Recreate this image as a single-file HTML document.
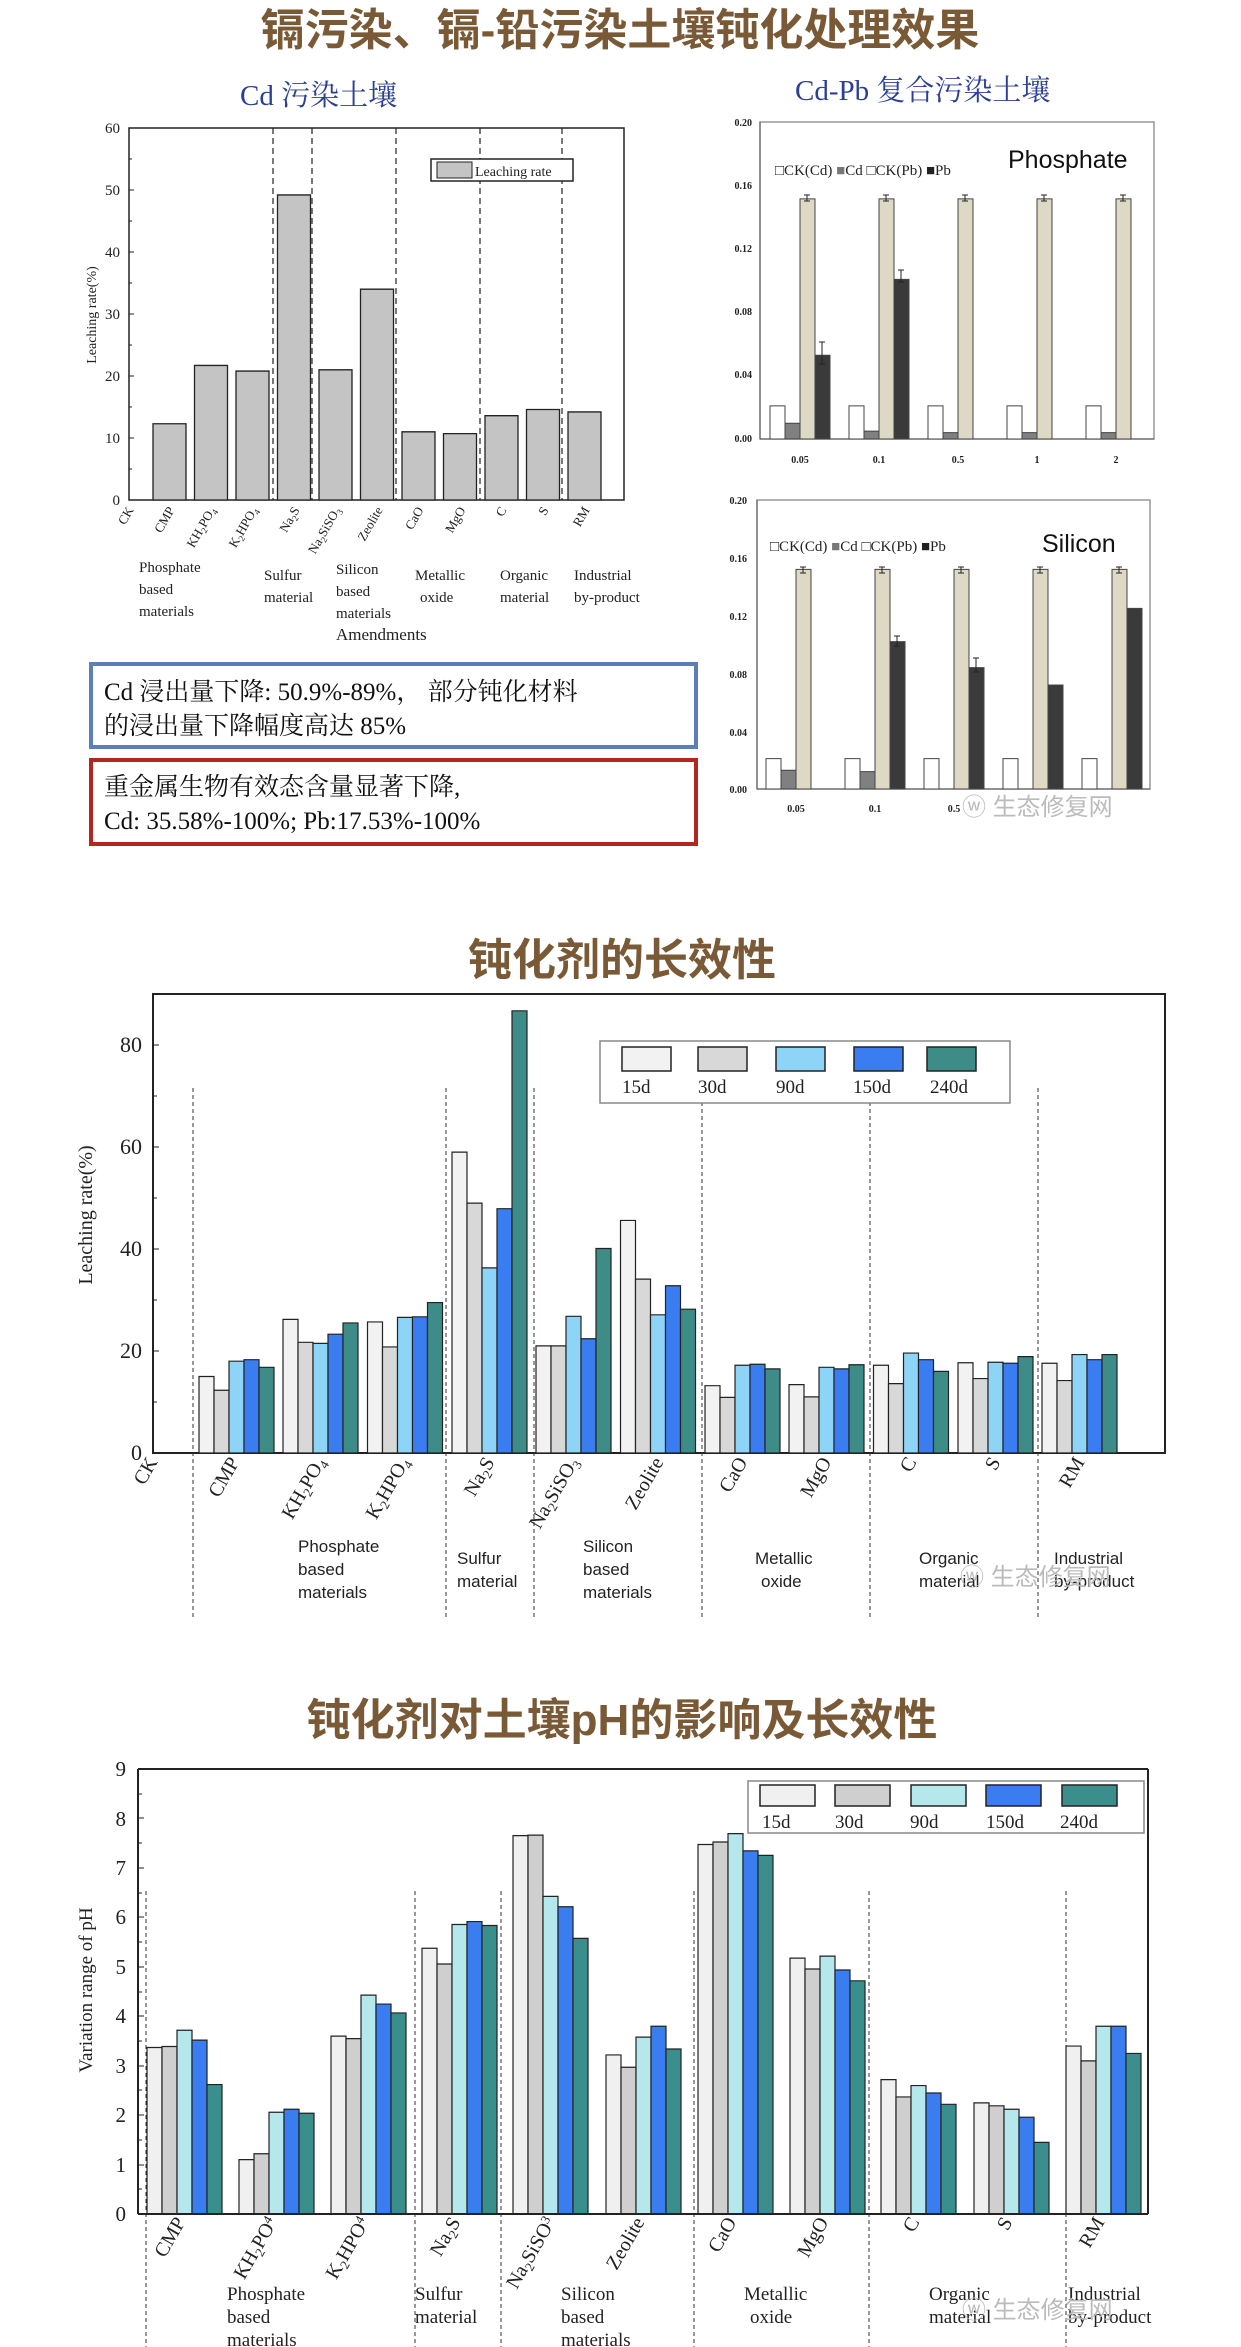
<!DOCTYPE html>
<html><head><meta charset="utf-8"><style>
html,body{margin:0;padding:0;background:#fff;}
svg{display:block;}
.t{font-family:"Liberation Sans","Noto Sans CJK SC",sans-serif;font-weight:bold;fill:#7a5a36;}
.s{font-family:"Liberation Serif","Noto Serif CJK SC",serif;}
.a{font-family:"Liberation Sans",sans-serif;}
</style></head><body>
<svg width="1241" height="2347" viewBox="0 0 1241 2347" xmlns="http://www.w3.org/2000/svg">
<rect width="1241" height="2347" fill="#fff"/>
<!-- Title 1 -->
<text class="t" x="620" y="45" font-size="44" text-anchor="middle">镉污染、镉-铅污染土壤钝化处理效果</text>
<text class="s" x="240" y="105" font-size="29" fill="#2b3f95">Cd 污染土壤</text>
<text class="s" x="795" y="100" font-size="29" fill="#2b3f95">Cd-Pb 复合污染土壤</text>

<!-- Chart 1 left -->
<g class="s" font-size="15" fill="#222">
<rect x="129" y="128" width="495" height="372" fill="none" stroke="#222" stroke-width="1.5"/>
<g stroke="#222" stroke-dasharray="6,4" stroke-width="1.2">
<line x1="273" y1="128" x2="273" y2="500"/><line x1="312" y1="128" x2="312" y2="500"/>
<line x1="396" y1="128" x2="396" y2="500"/><line x1="480" y1="128" x2="480" y2="500"/>
<line x1="562" y1="128" x2="562" y2="500"/></g>
<g transform="translate(0,500) scale(1,-6.2)" fill="#c4c4c4" stroke="#222" stroke-width="1.3">
<rect vector-effect="non-scaling-stroke" x="153" y="0" width="33" height="12.3"/>
<rect vector-effect="non-scaling-stroke" x="194.5" y="0" width="33" height="21.7"/>
<rect vector-effect="non-scaling-stroke" x="236" y="0" width="33" height="20.8"/>
<rect vector-effect="non-scaling-stroke" x="277.5" y="0" width="33" height="49.2"/>
<rect vector-effect="non-scaling-stroke" x="319" y="0" width="33" height="21"/>
<rect vector-effect="non-scaling-stroke" x="360.5" y="0" width="33" height="34"/>
<rect vector-effect="non-scaling-stroke" x="402" y="0" width="33" height="11"/>
<rect vector-effect="non-scaling-stroke" x="443.5" y="0" width="33" height="10.7"/>
<rect vector-effect="non-scaling-stroke" x="485" y="0" width="33" height="13.6"/>
<rect vector-effect="non-scaling-stroke" x="526.5" y="0" width="33" height="14.6"/>
<rect vector-effect="non-scaling-stroke" x="568" y="0" width="33" height="14.2"/>
</g>
<g stroke="#222"><line x1="129" y1="438" x2="134" y2="438"/><line x1="129" y1="376" x2="134" y2="376"/><line x1="129" y1="314" x2="134" y2="314"/><line x1="129" y1="252" x2="134" y2="252"/><line x1="129" y1="190" x2="134" y2="190"/>
<line x1="129" y1="469" x2="132" y2="469"/><line x1="129" y1="407" x2="132" y2="407"/><line x1="129" y1="345" x2="132" y2="345"/><line x1="129" y1="283" x2="132" y2="283"/><line x1="129" y1="221" x2="132" y2="221"/><line x1="129" y1="159" x2="132" y2="159"/></g>
<g text-anchor="end"><text x="120" y="505">0</text><text x="120" y="443">10</text><text x="120" y="381">20</text><text x="120" y="319">30</text><text x="120" y="257">40</text><text x="120" y="195">50</text><text x="120" y="133">60</text></g>
<text transform="translate(96,315) rotate(-90)" text-anchor="middle" font-size="14">Leaching rate(%)</text>
<rect x="431" y="159" width="142" height="22" fill="#fff" stroke="#222" stroke-width="1.5"/>
<rect x="437" y="162" width="35" height="16" fill="#c4c4c4" stroke="#222"/>
<text x="475" y="176" font-size="14">Leaching rate</text>
<g font-size="13" text-anchor="end">
<text transform="translate(134,510) rotate(-60)">CK</text>
<text transform="translate(175,510) rotate(-60)">CMP</text>
<text transform="translate(216,510) rotate(-60)">KH<tspan font-size="9" dy="3">2</tspan><tspan dy="-3">PO</tspan><tspan font-size="9" dy="3">4</tspan></text>
<text transform="translate(258,510) rotate(-60)">K<tspan font-size="9" dy="3">2</tspan><tspan dy="-3">HPO</tspan><tspan font-size="9" dy="3">4</tspan></text>
<text transform="translate(300,510) rotate(-60)">Na<tspan font-size="9" dy="3">2</tspan><tspan dy="-3">S</tspan></text>
<text transform="translate(341,510) rotate(-60)">Na<tspan font-size="9" dy="3">2</tspan><tspan dy="-3">SiSO</tspan><tspan font-size="9" dy="3">3</tspan></text>
<text transform="translate(383,510) rotate(-60)">Zeolite</text>
<text transform="translate(424,510) rotate(-60)">CaO</text>
<text transform="translate(466,510) rotate(-60)">MgO</text>
<text transform="translate(507,510) rotate(-60)">C</text>
<text transform="translate(549,510) rotate(-60)">S</text>
<text transform="translate(590,510) rotate(-60)">RM</text>
</g>
<g font-size="15">
<text x="139" y="572">Phosphate</text><text x="139" y="594">based</text><text x="139" y="616">materials</text>
<text x="264" y="580">Sulfur</text><text x="264" y="602">material</text>
<text x="336" y="574">Silicon</text><text x="336" y="596">based</text><text x="336" y="618">materials</text>
<text x="415" y="580">Metallic</text><text x="420" y="602">oxide</text>
<text x="500" y="580">Organic</text><text x="500" y="602">material</text>
<text x="574" y="580">Industrial</text><text x="574" y="602">by-product</text>
<text x="336" y="640" font-size="17">Amendments</text>
</g>
</g>

<!-- Boxes -->
<rect x="91" y="664" width="605" height="83" fill="#fff" stroke="#5b80b9" stroke-width="4"/>
<text class="s" x="104" y="700" font-size="25" fill="#111">Cd 浸出量下降: 50.9%-89%， 部分钝化材料</text>
<text class="s" x="104" y="734" font-size="25" fill="#111">的浸出量下降幅度高达 85%</text>
<rect x="91" y="760" width="605" height="84" fill="#fff" stroke="#b0281e" stroke-width="4"/>
<text class="s" x="104" y="795" font-size="25" fill="#111">重金属生物有效态含量显著下降,</text>
<text class="s" x="104" y="829" font-size="25" fill="#111">Cd: 35.58%-100%; Pb:17.53%-100%</text>

<!-- Right top chart -->
<g class="s" font-size="10" fill="#222">
<rect x="760" y="122" width="394" height="317" fill="none" stroke="#999" stroke-width="1.5"/>
<line x1="760" y1="122" x2="760" y2="439" stroke="#555"/><line x1="760" y1="439" x2="1154" y2="439" stroke="#555"/>
<g text-anchor="end" font-weight="bold"><text x="752" y="126">0.20</text><text x="752" y="189">0.16</text><text x="752" y="252">0.12</text><text x="752" y="315">0.08</text><text x="752" y="378">0.04</text><text x="752" y="442">0.00</text></g>
<g transform="translate(0,439) scale(1,-1580)" stroke="#444" stroke-width="1">
<g transform="translate(770,0)"><rect vector-effect="non-scaling-stroke" x="0" width="15" height="0.021" fill="#fff"/><rect vector-effect="non-scaling-stroke" x="15" width="15" height="0.010" fill="#808080"/><rect vector-effect="non-scaling-stroke" x="30" width="15" height="0.152" fill="#ddd9c4"/><rect vector-effect="non-scaling-stroke" x="45" width="15" height="0.053" fill="#3a3a3a"/></g>
<g transform="translate(849,0)"><rect vector-effect="non-scaling-stroke" x="0" width="15" height="0.021" fill="#fff"/><rect vector-effect="non-scaling-stroke" x="15" width="15" height="0.005" fill="#808080"/><rect vector-effect="non-scaling-stroke" x="30" width="15" height="0.152" fill="#ddd9c4"/><rect vector-effect="non-scaling-stroke" x="45" width="15" height="0.101" fill="#3a3a3a"/></g>
<g transform="translate(928,0)"><rect vector-effect="non-scaling-stroke" x="0" width="15" height="0.021" fill="#fff"/><rect vector-effect="non-scaling-stroke" x="15" width="15" height="0.004" fill="#808080"/><rect vector-effect="non-scaling-stroke" x="30" width="15" height="0.152" fill="#ddd9c4"/></g>
<g transform="translate(1007,0)"><rect vector-effect="non-scaling-stroke" x="0" width="15" height="0.021" fill="#fff"/><rect vector-effect="non-scaling-stroke" x="15" width="15" height="0.004" fill="#808080"/><rect vector-effect="non-scaling-stroke" x="30" width="15" height="0.152" fill="#ddd9c4"/></g>
<g transform="translate(1086,0)"><rect vector-effect="non-scaling-stroke" x="0" width="15" height="0.021" fill="#fff"/><rect vector-effect="non-scaling-stroke" x="15" width="15" height="0.004" fill="#808080"/><rect vector-effect="non-scaling-stroke" x="30" width="15" height="0.152" fill="#ddd9c4"/></g>
</g>
<g stroke="#222" stroke-width="1">
<path d="M804 195h6M807 195v6M804 201h6M883 195h6M886 195v6M883 201h6M962 195h6M965 195v6M962 201h6M1041 195h6M1044 195v6M1041 201h6M1120 195h6M1123 195v6M1120 201h6"/>
<path d="M819 342h6M822 342v22M819 364h6M898 270h6M901 270v12M898 282h6"/>
</g>
<text x="775" y="175" font-size="15">□CK(Cd) <tspan fill="#777">■</tspan>Cd □CK(Pb) ■Pb</text>
<text class="a" x="1008" y="168" font-size="25" fill="#111">Phosphate</text>
<g text-anchor="middle" font-weight="bold"><text x="800" y="463">0.05</text><text x="879" y="463">0.1</text><text x="958" y="463">0.5</text><text x="1037" y="463">1</text><text x="1116" y="463">2</text></g>
</g>

<!-- Right bottom chart -->
<g class="s" font-size="10" fill="#222">
<rect x="757" y="500" width="393" height="289" fill="none" stroke="#999" stroke-width="1.5"/>
<line x1="757" y1="500" x2="757" y2="789" stroke="#555"/><line x1="757" y1="789" x2="1150" y2="789" stroke="#555"/>
<g text-anchor="end" font-weight="bold"><text x="747" y="504">0.20</text><text x="747" y="562">0.16</text><text x="747" y="620">0.12</text><text x="747" y="678">0.08</text><text x="747" y="736">0.04</text><text x="747" y="793">0.00</text></g>
<g transform="translate(0,789) scale(1,-1445)" stroke="#444" stroke-width="1">
<g transform="translate(766,0)"><rect vector-effect="non-scaling-stroke" x="0" width="15" height="0.021" fill="#fff"/><rect vector-effect="non-scaling-stroke" x="15" width="15" height="0.013" fill="#808080"/><rect vector-effect="non-scaling-stroke" x="30" width="15" height="0.152" fill="#ddd9c4"/></g>
<g transform="translate(845,0)"><rect vector-effect="non-scaling-stroke" x="0" width="15" height="0.021" fill="#fff"/><rect vector-effect="non-scaling-stroke" x="15" width="15" height="0.012" fill="#808080"/><rect vector-effect="non-scaling-stroke" x="30" width="15" height="0.152" fill="#ddd9c4"/><rect vector-effect="non-scaling-stroke" x="45" width="15" height="0.102" fill="#3a3a3a"/></g>
<g transform="translate(924,0)"><rect vector-effect="non-scaling-stroke" x="0" width="15" height="0.021" fill="#fff"/><rect vector-effect="non-scaling-stroke" x="30" width="15" height="0.152" fill="#ddd9c4"/><rect vector-effect="non-scaling-stroke" x="45" width="15" height="0.084" fill="#3a3a3a"/></g>
<g transform="translate(1003,0)"><rect vector-effect="non-scaling-stroke" x="0" width="15" height="0.021" fill="#fff"/><rect vector-effect="non-scaling-stroke" x="30" width="15" height="0.152" fill="#ddd9c4"/><rect vector-effect="non-scaling-stroke" x="45" width="15" height="0.072" fill="#3a3a3a"/></g>
<g transform="translate(1082,0)"><rect vector-effect="non-scaling-stroke" x="0" width="15" height="0.021" fill="#fff"/><rect vector-effect="non-scaling-stroke" x="30" width="15" height="0.152" fill="#ddd9c4"/><rect vector-effect="non-scaling-stroke" x="45" width="15" height="0.125" fill="#3a3a3a"/></g>
</g>
<g stroke="#222"><path d="M800 567h6M803 567v6M800 573h6M879 567h6M882 567v6M879 573h6M958 567h6M961 567v6M958 573h6M1037 567h6M1040 567v6M1037 573h6M1116 567h6M1119 567v6M1116 573h6M894 636h6M897 636v10M894 646h6M973 658h6M976 658v14M973 672h6"/></g>
<text x="770" y="551" font-size="15">□CK(Cd) <tspan fill="#777">■</tspan>Cd □CK(Pb) ■Pb</text>
<text class="a" x="1042" y="552" font-size="25" fill="#111">Silicon</text>
<g text-anchor="middle" font-weight="bold"><text x="796" y="812">0.05</text><text x="875" y="812">0.1</text><text x="954" y="812">0.5</text></g>
</g>
<text x="962" y="815" font-family="Liberation Sans,Noto Sans CJK SC,sans-serif" font-size="24" fill="#bbb">ⓦ 生态修复网</text>

<!-- Chart 2 -->
<text class="t" x="622" y="975" font-size="44" text-anchor="middle">钝化剂的长效性</text>
<g class="s" fill="#222">
<rect x="153" y="994" width="1012" height="459" fill="none" stroke="#222" stroke-width="2"/>
<g stroke="#333" stroke-dasharray="4,3" stroke-width="1">
<line x1="193" y1="1088" x2="193" y2="1620"/><line x1="446" y1="1088" x2="446" y2="1620"/><line x1="534" y1="1088" x2="534" y2="1620"/><line x1="702" y1="1088" x2="702" y2="1620"/><line x1="870" y1="1088" x2="870" y2="1620"/><line x1="1038" y1="1088" x2="1038" y2="1620"/></g>
<g transform="translate(0,1453) scale(1,-5.1)" stroke="#222" stroke-width="1.2">
<g transform="translate(199,0)"><rect vector-effect="non-scaling-stroke" x="0" width="15" height="15" fill="#f2f2f2"/><rect vector-effect="non-scaling-stroke" x="15" width="15" height="12.3" fill="#d8d8d8"/><rect vector-effect="non-scaling-stroke" x="30" width="15" height="18" fill="#8dd4f6"/><rect vector-effect="non-scaling-stroke" x="45" width="15" height="18.3" fill="#3a7df0"/><rect vector-effect="non-scaling-stroke" x="60" width="15" height="16.8" fill="#3d8c88"/></g>
<g transform="translate(283,0)"><rect vector-effect="non-scaling-stroke" x="0" width="15" height="26.2" fill="#f2f2f2"/><rect vector-effect="non-scaling-stroke" x="15" width="15" height="21.7" fill="#d8d8d8"/><rect vector-effect="non-scaling-stroke" x="30" width="15" height="21.5" fill="#8dd4f6"/><rect vector-effect="non-scaling-stroke" x="45" width="15" height="23.3" fill="#3a7df0"/><rect vector-effect="non-scaling-stroke" x="60" width="15" height="25.5" fill="#3d8c88"/></g>
<g transform="translate(367.5,0)"><rect vector-effect="non-scaling-stroke" x="0" width="15" height="25.7" fill="#f2f2f2"/><rect vector-effect="non-scaling-stroke" x="15" width="15" height="20.8" fill="#d8d8d8"/><rect vector-effect="non-scaling-stroke" x="30" width="15" height="26.6" fill="#8dd4f6"/><rect vector-effect="non-scaling-stroke" x="45" width="15" height="26.7" fill="#3a7df0"/><rect vector-effect="non-scaling-stroke" x="60" width="15" height="29.5" fill="#3d8c88"/></g>
<g transform="translate(452,0)"><rect vector-effect="non-scaling-stroke" x="0" width="15" height="59" fill="#f2f2f2"/><rect vector-effect="non-scaling-stroke" x="15" width="15" height="49" fill="#d8d8d8"/><rect vector-effect="non-scaling-stroke" x="30" width="15" height="36.3" fill="#8dd4f6"/><rect vector-effect="non-scaling-stroke" x="45" width="15" height="47.9" fill="#3a7df0"/><rect vector-effect="non-scaling-stroke" x="60" width="15" height="86.7" fill="#3d8c88"/></g>
<g transform="translate(536,0)"><rect vector-effect="non-scaling-stroke" x="0" width="15" height="21" fill="#f2f2f2"/><rect vector-effect="non-scaling-stroke" x="15" width="15" height="21" fill="#d8d8d8"/><rect vector-effect="non-scaling-stroke" x="30" width="15" height="26.8" fill="#8dd4f6"/><rect vector-effect="non-scaling-stroke" x="45" width="15" height="22.4" fill="#3a7df0"/><rect vector-effect="non-scaling-stroke" x="60" width="15" height="40.1" fill="#3d8c88"/></g>
<g transform="translate(620.5,0)"><rect vector-effect="non-scaling-stroke" x="0" width="15" height="45.6" fill="#f2f2f2"/><rect vector-effect="non-scaling-stroke" x="15" width="15" height="34.1" fill="#d8d8d8"/><rect vector-effect="non-scaling-stroke" x="30" width="15" height="27.1" fill="#8dd4f6"/><rect vector-effect="non-scaling-stroke" x="45" width="15" height="32.8" fill="#3a7df0"/><rect vector-effect="non-scaling-stroke" x="60" width="15" height="28.2" fill="#3d8c88"/></g>
<g transform="translate(705,0)"><rect vector-effect="non-scaling-stroke" x="0" width="15" height="13.2" fill="#f2f2f2"/><rect vector-effect="non-scaling-stroke" x="15" width="15" height="10.9" fill="#d8d8d8"/><rect vector-effect="non-scaling-stroke" x="30" width="15" height="17.2" fill="#8dd4f6"/><rect vector-effect="non-scaling-stroke" x="45" width="15" height="17.4" fill="#3a7df0"/><rect vector-effect="non-scaling-stroke" x="60" width="15" height="16.5" fill="#3d8c88"/></g>
<g transform="translate(789,0)"><rect vector-effect="non-scaling-stroke" x="0" width="15" height="13.4" fill="#f2f2f2"/><rect vector-effect="non-scaling-stroke" x="15" width="15" height="11" fill="#d8d8d8"/><rect vector-effect="non-scaling-stroke" x="30" width="15" height="16.8" fill="#8dd4f6"/><rect vector-effect="non-scaling-stroke" x="45" width="15" height="16.5" fill="#3a7df0"/><rect vector-effect="non-scaling-stroke" x="60" width="15" height="17.3" fill="#3d8c88"/></g>
<g transform="translate(873.5,0)"><rect vector-effect="non-scaling-stroke" x="0" width="15" height="17.2" fill="#f2f2f2"/><rect vector-effect="non-scaling-stroke" x="15" width="15" height="13.6" fill="#d8d8d8"/><rect vector-effect="non-scaling-stroke" x="30" width="15" height="19.6" fill="#8dd4f6"/><rect vector-effect="non-scaling-stroke" x="45" width="15" height="18.3" fill="#3a7df0"/><rect vector-effect="non-scaling-stroke" x="60" width="15" height="16" fill="#3d8c88"/></g>
<g transform="translate(958,0)"><rect vector-effect="non-scaling-stroke" x="0" width="15" height="17.7" fill="#f2f2f2"/><rect vector-effect="non-scaling-stroke" x="15" width="15" height="14.6" fill="#d8d8d8"/><rect vector-effect="non-scaling-stroke" x="30" width="15" height="17.8" fill="#8dd4f6"/><rect vector-effect="non-scaling-stroke" x="45" width="15" height="17.6" fill="#3a7df0"/><rect vector-effect="non-scaling-stroke" x="60" width="15" height="18.9" fill="#3d8c88"/></g>
<g transform="translate(1042,0)"><rect vector-effect="non-scaling-stroke" x="0" width="15" height="17.6" fill="#f2f2f2"/><rect vector-effect="non-scaling-stroke" x="15" width="15" height="14.2" fill="#d8d8d8"/><rect vector-effect="non-scaling-stroke" x="30" width="15" height="19.3" fill="#8dd4f6"/><rect vector-effect="non-scaling-stroke" x="45" width="15" height="18.3" fill="#3a7df0"/><rect vector-effect="non-scaling-stroke" x="60" width="15" height="19.3" fill="#3d8c88"/></g>
</g>
<g stroke="#222"><path d="M153 1045h6M153 1147h6M153 1249h6M153 1351h6M153 1096h4M153 1198h4M153 1300h4M153 1402h4"/></g>
<g font-size="22" text-anchor="end"><text x="142" y="1460">0</text><text x="142" y="1358">20</text><text x="142" y="1256">40</text><text x="142" y="1154">60</text><text x="142" y="1052">80</text></g>
<text transform="translate(92,1215) rotate(-90)" text-anchor="middle" font-size="20">Leaching rate(%)</text>
<rect x="600" y="1041" width="410" height="62" fill="#fff" stroke="#888" stroke-width="1.5"/>
<g stroke="#222" stroke-width="1.5"><rect x="622" y="1047" width="49" height="24" fill="#f2f2f2"/><rect x="698" y="1047" width="49" height="24" fill="#d8d8d8"/><rect x="776" y="1047" width="49" height="24" fill="#8dd4f6"/><rect x="854" y="1047" width="49" height="24" fill="#3a7df0"/><rect x="927" y="1047" width="49" height="24" fill="#3d8c88"/></g>
<g font-size="19"><text x="622" y="1093">15d</text><text x="698" y="1093">30d</text><text x="776" y="1093">90d</text><text x="853" y="1093">150d</text><text x="930" y="1093">240d</text></g>
<g font-size="20" text-anchor="end">
<text transform="translate(158,1462) rotate(-60)">CK</text>
<text transform="translate(240,1462) rotate(-60)">CMP</text>
<text transform="translate(326,1462) rotate(-60)">KH<tspan font-size="13" dy="4">2</tspan><tspan dy="-4">PO</tspan><tspan font-size="13" dy="4">4</tspan></text>
<text transform="translate(410,1462) rotate(-60)">K<tspan font-size="13" dy="4">2</tspan><tspan dy="-4">HPO</tspan><tspan font-size="13" dy="4">4</tspan></text>
<text transform="translate(495,1462) rotate(-60)">Na<tspan font-size="13" dy="4">2</tspan><tspan dy="-4">S</tspan></text>
<text transform="translate(579,1462) rotate(-60)">Na<tspan font-size="13" dy="4">2</tspan><tspan dy="-4">SiSO</tspan><tspan font-size="13" dy="4">3</tspan></text>
<text transform="translate(664,1462) rotate(-60)">Zeolite</text>
<text transform="translate(748,1462) rotate(-60)">CaO</text>
<text transform="translate(832,1462) rotate(-60)">MgO</text>
<text transform="translate(917,1462) rotate(-60)">C</text>
<text transform="translate(1001,1462) rotate(-60)">S</text>
<text transform="translate(1085,1462) rotate(-60)">RM</text>
</g>
<g class="a" font-size="17">
<text x="298" y="1552">Phosphate</text><text x="298" y="1575">based</text><text x="298" y="1598">materials</text>
<text x="457" y="1564">Sulfur</text><text x="457" y="1587">material</text>
<text x="583" y="1552">Silicon</text><text x="583" y="1575">based</text><text x="583" y="1598">materials</text>
<text x="755" y="1564">Metallic</text><text x="761" y="1587">oxide</text>
<text x="919" y="1564">Organic</text><text x="919" y="1587">material</text>
<text x="1054" y="1564">Industrial</text><text x="1054" y="1587">by-product</text>
</g>
</g>
<text x="960" y="1585" font-family="Liberation Sans,Noto Sans CJK SC,sans-serif" font-size="24" fill="#bbb">ⓦ 生态修复网</text>

<!-- Chart 3 -->
<text class="t" x="622" y="1735" font-size="44" text-anchor="middle">钝化剂对土壤pH的影响及长效性</text>
<g class="s" fill="#222">
<line x1="138" y1="1769" x2="1148" y2="1769" stroke="#222" stroke-width="2"/>
<line x1="138" y1="1769" x2="138" y2="2214" stroke="#222" stroke-width="2"/>
<line x1="1148" y1="1769" x2="1148" y2="2214" stroke="#222" stroke-width="2"/>
<g stroke="#333" stroke-dasharray="4,3" stroke-width="1">
<line x1="146" y1="1891" x2="146" y2="2347"/><line x1="415" y1="1891" x2="415" y2="2347"/><line x1="501" y1="1891" x2="501" y2="2347"/><line x1="694" y1="1891" x2="694" y2="2347"/><line x1="869" y1="1891" x2="869" y2="2347"/><line x1="1066" y1="1891" x2="1066" y2="2347"/></g>
<g transform="translate(0,2214) scale(1,-49.4)" stroke="#222" stroke-width="1.2">
<g transform="translate(147,0)"><rect vector-effect="non-scaling-stroke" x="0" width="15" height="3.37" fill="#f0f0f0"/><rect vector-effect="non-scaling-stroke" x="15" width="15" height="3.39" fill="#cfcfcf"/><rect vector-effect="non-scaling-stroke" x="30" width="15" height="3.72" fill="#b5e8ec"/><rect vector-effect="non-scaling-stroke" x="45" width="15" height="3.52" fill="#3a7df0"/><rect vector-effect="non-scaling-stroke" x="60" width="15" height="2.62" fill="#3a8f8c"/></g>
<g transform="translate(239,0)"><rect vector-effect="non-scaling-stroke" x="0" width="15" height="1.1" fill="#f0f0f0"/><rect vector-effect="non-scaling-stroke" x="15" width="15" height="1.22" fill="#cfcfcf"/><rect vector-effect="non-scaling-stroke" x="30" width="15" height="2.06" fill="#b5e8ec"/><rect vector-effect="non-scaling-stroke" x="45" width="15" height="2.12" fill="#3a7df0"/><rect vector-effect="non-scaling-stroke" x="60" width="15" height="2.04" fill="#3a8f8c"/></g>
<g transform="translate(331,0)"><rect vector-effect="non-scaling-stroke" x="0" width="15" height="3.6" fill="#f0f0f0"/><rect vector-effect="non-scaling-stroke" x="15" width="15" height="3.55" fill="#cfcfcf"/><rect vector-effect="non-scaling-stroke" x="30" width="15" height="4.43" fill="#b5e8ec"/><rect vector-effect="non-scaling-stroke" x="45" width="15" height="4.25" fill="#3a7df0"/><rect vector-effect="non-scaling-stroke" x="60" width="15" height="4.07" fill="#3a8f8c"/></g>
<g transform="translate(422,0)"><rect vector-effect="non-scaling-stroke" x="0" width="15" height="5.38" fill="#f0f0f0"/><rect vector-effect="non-scaling-stroke" x="15" width="15" height="5.06" fill="#cfcfcf"/><rect vector-effect="non-scaling-stroke" x="30" width="15" height="5.86" fill="#b5e8ec"/><rect vector-effect="non-scaling-stroke" x="45" width="15" height="5.92" fill="#3a7df0"/><rect vector-effect="non-scaling-stroke" x="60" width="15" height="5.84" fill="#3a8f8c"/></g>
<g transform="translate(513,0)"><rect vector-effect="non-scaling-stroke" x="0" width="15" height="7.66" fill="#f0f0f0"/><rect vector-effect="non-scaling-stroke" x="15" width="15" height="7.67" fill="#cfcfcf"/><rect vector-effect="non-scaling-stroke" x="30" width="15" height="6.43" fill="#b5e8ec"/><rect vector-effect="non-scaling-stroke" x="45" width="15" height="6.22" fill="#3a7df0"/><rect vector-effect="non-scaling-stroke" x="60" width="15" height="5.58" fill="#3a8f8c"/></g>
<g transform="translate(606,0)"><rect vector-effect="non-scaling-stroke" x="0" width="15" height="3.22" fill="#f0f0f0"/><rect vector-effect="non-scaling-stroke" x="15" width="15" height="2.97" fill="#cfcfcf"/><rect vector-effect="non-scaling-stroke" x="30" width="15" height="3.58" fill="#b5e8ec"/><rect vector-effect="non-scaling-stroke" x="45" width="15" height="3.8" fill="#3a7df0"/><rect vector-effect="non-scaling-stroke" x="60" width="15" height="3.34" fill="#3a8f8c"/></g>
<g transform="translate(698,0)"><rect vector-effect="non-scaling-stroke" x="0" width="15" height="7.48" fill="#f0f0f0"/><rect vector-effect="non-scaling-stroke" x="15" width="15" height="7.53" fill="#cfcfcf"/><rect vector-effect="non-scaling-stroke" x="30" width="15" height="7.7" fill="#b5e8ec"/><rect vector-effect="non-scaling-stroke" x="45" width="15" height="7.35" fill="#3a7df0"/><rect vector-effect="non-scaling-stroke" x="60" width="15" height="7.26" fill="#3a8f8c"/></g>
<g transform="translate(790,0)"><rect vector-effect="non-scaling-stroke" x="0" width="15" height="5.18" fill="#f0f0f0"/><rect vector-effect="non-scaling-stroke" x="15" width="15" height="4.96" fill="#cfcfcf"/><rect vector-effect="non-scaling-stroke" x="30" width="15" height="5.22" fill="#b5e8ec"/><rect vector-effect="non-scaling-stroke" x="45" width="15" height="4.94" fill="#3a7df0"/><rect vector-effect="non-scaling-stroke" x="60" width="15" height="4.72" fill="#3a8f8c"/></g>
<g transform="translate(881,0)"><rect vector-effect="non-scaling-stroke" x="0" width="15" height="2.72" fill="#f0f0f0"/><rect vector-effect="non-scaling-stroke" x="15" width="15" height="2.37" fill="#cfcfcf"/><rect vector-effect="non-scaling-stroke" x="30" width="15" height="2.6" fill="#b5e8ec"/><rect vector-effect="non-scaling-stroke" x="45" width="15" height="2.45" fill="#3a7df0"/><rect vector-effect="non-scaling-stroke" x="60" width="15" height="2.22" fill="#3a8f8c"/></g>
<g transform="translate(974,0)"><rect vector-effect="non-scaling-stroke" x="0" width="15" height="2.25" fill="#f0f0f0"/><rect vector-effect="non-scaling-stroke" x="15" width="15" height="2.19" fill="#cfcfcf"/><rect vector-effect="non-scaling-stroke" x="30" width="15" height="2.12" fill="#b5e8ec"/><rect vector-effect="non-scaling-stroke" x="45" width="15" height="1.96" fill="#3a7df0"/><rect vector-effect="non-scaling-stroke" x="60" width="15" height="1.45" fill="#3a8f8c"/></g>
<g transform="translate(1066,0)"><rect vector-effect="non-scaling-stroke" x="0" width="15" height="3.4" fill="#f0f0f0"/><rect vector-effect="non-scaling-stroke" x="15" width="15" height="3.1" fill="#cfcfcf"/><rect vector-effect="non-scaling-stroke" x="30" width="15" height="3.8" fill="#b5e8ec"/><rect vector-effect="non-scaling-stroke" x="45" width="15" height="3.8" fill="#3a7df0"/><rect vector-effect="non-scaling-stroke" x="60" width="15" height="3.25" fill="#3a8f8c"/></g>
</g>
<line x1="138" y1="2214" x2="1148" y2="2214" stroke="#222" stroke-width="2"/>
<g stroke="#222"><path d="M138 2165h6M138 2115h6M138 2066h6M138 2016h6M138 1967h6M138 1917h6M138 1868h6M138 1818h6M138 2189h4M138 2140h4M138 2090h4M138 2041h4M138 1992h4M138 1942h4M138 1893h4M138 1843h4M138 1794h4"/></g>
<g font-size="21" text-anchor="end"><text x="126" y="2221">0</text><text x="126" y="2172">1</text><text x="126" y="2122">2</text><text x="126" y="2073">3</text><text x="126" y="2023">4</text><text x="126" y="1974">5</text><text x="126" y="1924">6</text><text x="126" y="1875">7</text><text x="126" y="1826">8</text><text x="126" y="1776">9</text></g>
<text transform="translate(92,1990) rotate(-90)" text-anchor="middle" font-size="19">Variation range of pH</text>
<rect x="748" y="1781" width="396" height="52" fill="#fff" stroke="#888" stroke-width="1.5"/>
<g stroke="#222" stroke-width="1.5"><rect x="760" y="1785" width="55" height="21" fill="#f0f0f0"/><rect x="835" y="1785" width="55" height="21" fill="#cfcfcf"/><rect x="911" y="1785" width="55" height="21" fill="#b5e8ec"/><rect x="986" y="1785" width="55" height="21" fill="#3a7df0"/><rect x="1062" y="1785" width="55" height="21" fill="#3a8f8c"/></g>
<g font-size="19"><text x="762" y="1828">15d</text><text x="835" y="1828">30d</text><text x="910" y="1828">90d</text><text x="986" y="1828">150d</text><text x="1060" y="1828">240d</text></g>
<g font-size="20" text-anchor="end">
<text transform="translate(186,2222) rotate(-60)">CMP</text>
<text transform="translate(278,2222) rotate(-60)">KH<tspan font-size="13" dy="4">2</tspan><tspan dy="-4">PO</tspan><tspan font-size="13" dy="-6">4</tspan></text>
<text transform="translate(370,2222) rotate(-60)">K<tspan font-size="13" dy="4">2</tspan><tspan dy="-4">HPO</tspan><tspan font-size="13" dy="-6">4</tspan></text>
<text transform="translate(461,2222) rotate(-60)">Na<tspan font-size="13" dy="4">2</tspan><tspan dy="-4">S</tspan></text>
<text transform="translate(556,2222) rotate(-60)">Na<tspan font-size="13" dy="4">2</tspan><tspan dy="-4">SiSO</tspan><tspan font-size="13" dy="-6">3</tspan></text>
<text transform="translate(645,2222) rotate(-60)">Zeolite</text>
<text transform="translate(737,2222) rotate(-60)">CaO</text>
<text transform="translate(829,2222) rotate(-60)">MgO</text>
<text transform="translate(920,2222) rotate(-60)">C</text>
<text transform="translate(1013,2222) rotate(-60)">S</text>
<text transform="translate(1105,2222) rotate(-60)">RM</text>
</g>
<g font-size="19">
<text x="227" y="2300">Phosphate</text><text x="227" y="2323">based</text><text x="227" y="2346">materials</text>
<text x="415" y="2300">Sulfur</text><text x="415" y="2323">material</text>
<text x="561" y="2300">Silicon</text><text x="561" y="2323">based</text><text x="561" y="2346">materials</text>
<text x="744" y="2300">Metallic</text><text x="750" y="2323">oxide</text>
<text x="929" y="2300">Organic</text><text x="929" y="2323">material</text>
<text x="1068" y="2300">Industrial</text><text x="1068" y="2323">by-product</text>
</g>
</g>
<text x="962" y="2318" font-family="Liberation Sans,Noto Sans CJK SC,sans-serif" font-size="24" fill="#bbb">ⓦ 生态修复网</text>
</svg>
</body></html>
